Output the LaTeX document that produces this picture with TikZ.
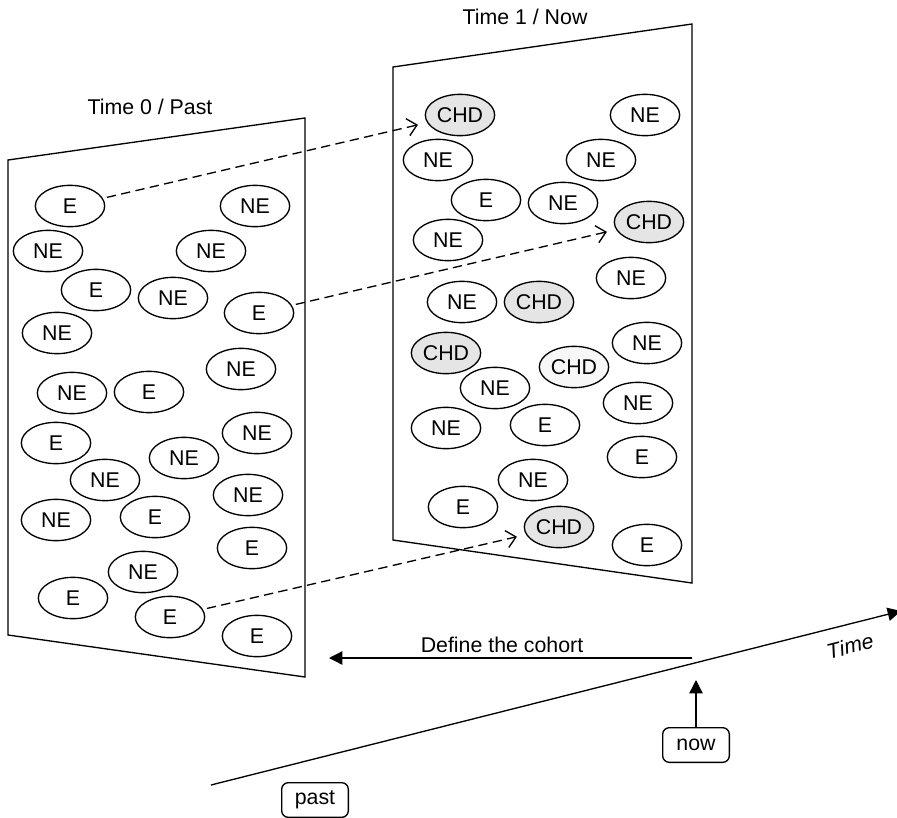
\documentclass[tikz,border=0pt]{standalone}
\usepackage{fontspec}
\setmainfont{Liberation Sans}
\usepackage{tikz}
\usetikzlibrary{arrows.meta,shapes.geometric}

\begin{document}
\begin{tikzpicture}[
  x=0.75pt,y=-0.75pt,
  >={Triangle[length=10pt,width=10pt]},
  txt/.style={font=\fontsize{16}{19}\selectfont,inner sep=1pt},
  ell/.style={ellipse,draw,line width=1pt,fill=white,minimum width=52pt,minimum height=31pt,inner sep=0pt,txt},
  chd/.style={ell,fill=gray!20},
  chdl/.style={ell,fill=gray!6},
  panel/.style={draw,line width=1pt},
  link/.style={dash pattern=on 7pt off 4pt,line width=1pt,-{Straight Barb[length=7pt,width=13pt]},shorten <=3pt,shorten >=7pt},
  arrow/.style={->,line width=1pt},
  box/.style={draw,rounded corners=5pt,line width=1pt,minimum width=50pt,minimum height=26pt,inner sep=2pt,txt}
]
\useasboundingbox (0,0) rectangle (897,818);
% the two panels
\draw[panel] (8,160) -- (305,118) -- (305,677) -- (8,635) -- cycle;
\draw[panel] (393,67) -- (692,24) -- (692,583) -- (393,540) -- cycle;
\node[txt] (title0) at (150,107) {Time 0 / Past};
\node[txt] (title1) at (525,17) {Time 1 / Now};
% time 0
\foreach \x/\y/\t [count=\i] in {70/206/E,255/206/NE,48/251/NE,211/251/NE,96/290/E,
  173/298/NE,259/313/E,57/333/NE,241/369/NE,72/393/NE,149/392/E,56/443/E,257/433/NE,
  184/458/NE,105/480/NE,248/495/NE,56/520/NE,155/517/E,252/548/E,143/572/NE,73/598/E,
  170/617/E,257/636/E}
  {\node[ell] (p\i) at (\x,\y) {\t};}
% time 1
\foreach \x/\y/\t/\s [count=\i] in {460/115/CHD/chd,645/115/NE/ell,438/160/NE/ell,
  601/160/NE/ell,486/200/E/ell,563/203/NE/ell,649/222/CHD/chd,448/240/NE/ell,
  631/278/NE/ell,462/302/NE/ell,539/302/CHD/chd,446/353/CHD/chd,647/343/NE/ell,
  574/367/CHD/chdl,495/388/NE/ell,638/403/NE/ell,446/428/NE/ell,545/425/E/ell,
  642/457/E/ell,533/480/NE/ell,463/507/E/ell,559/527/CHD/chd,647/545/E/ell}
  {\node[\s] (n\i) at (\x,\y) {\t};}
\draw[link] (p1) -- (n1);
\draw[link] (p7) -- (n7);
\draw[link] (p22) -- (n22);
% time axis
\coordinate (t0) at (211,785);
\coordinate (t1) at (901,611);
\draw[arrow] (t0) -- (t1);
\node[txt,font=\fontsize{16}{19}\selectfont\itshape,rotate=14] (tlab) at (850,646) {Time};
\coordinate (tnow) at (692,658);
\coordinate (tdef) at (329,658);
\draw[arrow] (tnow) -- (tdef);
\node[txt] (deflab) at (502,645) {Define the cohort};
\node[box] (now) at (696,745) {now};
\coordinate (nowtip) at (696,680);
\draw[arrow] (now) -- (nowtip);
\node[box] (past) at (315,800) {past};
\end{tikzpicture}
\end{document}
